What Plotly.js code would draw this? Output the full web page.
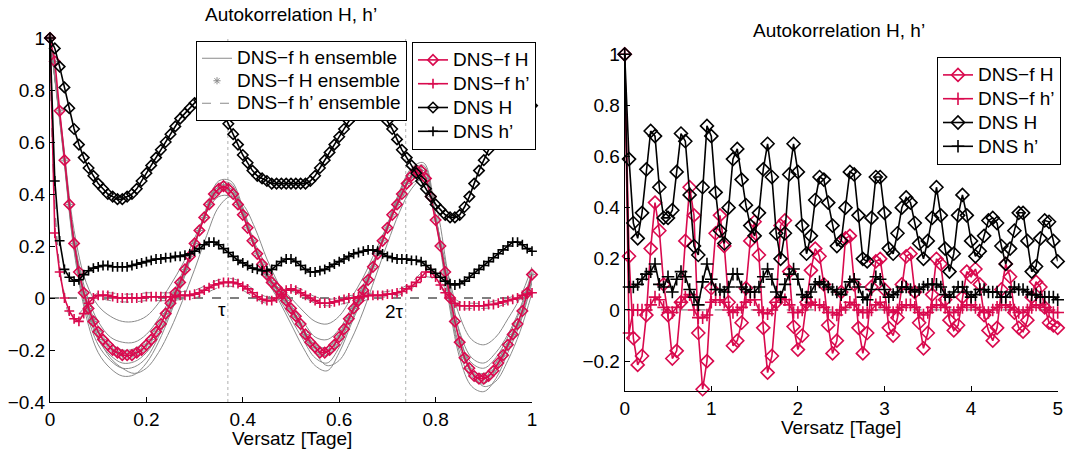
<!DOCTYPE html>
<html>
<head>
<meta charset="utf-8">
<script src="https://cdn.plot.ly/plotly-3.0.1.min.js"></script>
<style>html,body{margin:0;padding:0;background:#fff;}#chart{width:1067px;height:449px;}</style>
</head>
<body>
<div id="chart"></div>
<script>
// ---------------- DATA ----------------
const leftStep = 0.01;      // lag step of left panel [days]
const ensStep = 0.025;      // lag step of ensemble curves [days]
const rightStep = 0.05;     // lag step of right panel [days]
const tau = 0.369;          // tau marker [days]

const leftXTicks = [0, 0.2, 0.4, 0.6, 0.8, 1];
const leftXTickText = ["0", "0.2", "0.4", "0.6", "0.8", "1"];
const leftYTicks = [-0.4, -0.2, 0, 0.2, 0.4, 0.6, 0.8, 1];
const leftYTickText = ["\u22120.4", "\u22120.2", "0", "0.2", "0.4", "0.6", "0.8", "1"];
const rightXTicks = [0, 1, 2, 3, 4, 5];
const rightXTickText = ["0", "1", "2", "3", "4", "5"];
const rightYTicks = [-0.2, 0, 0.2, 0.4, 0.6, 0.8, 1];
const rightYTickText = ["\u22120.2", "0", "0.2", "0.4", "0.6", "0.8", "1"];

// Left panel: DNS-f H
const leftDNSfH = [
 1.00,0.91,0.72,0.53,0.36,0.21,0.10,0.02,-0.04,-0.09,
 -0.13,-0.16,-0.18,-0.20,-0.21,-0.22,-0.22,-0.22,-0.21,-0.20,
 -0.18,-0.16,-0.13,-0.10,-0.06,-0.02,0.02,0.06,0.11,0.16,
 0.21,0.26,0.31,0.36,0.40,0.42,0.43,0.42,0.40,0.36,
 0.32,0.27,0.22,0.17,0.13,0.09,0.06,0.04,0.02,-0.01,
 -0.04,-0.07,-0.10,-0.14,-0.17,-0.19,-0.21,-0.21,-0.20,-0.18,
 -0.15,-0.12,-0.08,-0.04,-0.01,0.03,0.07,0.12,0.17,0.22,
 0.27,0.32,0.36,0.40,0.44,0.47,0.49,0.49,0.46,0.39,
 0.30,0.20,0.10,0.00,-0.09,-0.17,-0.23,-0.27,-0.30,-0.31,
 -0.31,-0.30,-0.28,-0.25,-0.22,-0.18,-0.14,-0.10,-0.05,0.02,
 0.09];
// Left panel: DNS-f h'
const leftDNSfhp = [
 1.00,0.25,0.10,0.00,-0.05,-0.08,-0.09,-0.06,-0.02,0.00,
 0.01,0.01,0.01,0.005,0.0,0.0,0.0,0.0,0.0,0.0,
 0.005,0.005,0.005,0.005,0.005,0.005,0.005,0.01,0.01,0.01,
 0.015,0.02,0.03,0.04,0.05,0.055,0.06,0.06,0.06,0.055,
 0.045,0.035,0.02,0.005,-0.005,-0.01,-0.01,0.0,0.015,0.03,
 0.035,0.03,0.02,0.01,0.0,-0.01,-0.02,-0.02,-0.02,-0.015,
 -0.01,-0.005,0.0,0.0,0.005,0.005,0.01,0.01,0.01,0.01,
 0.015,0.015,0.02,0.025,0.035,0.045,0.06,0.08,0.10,0.10,
 0.08,0.05,0.02,0.0,-0.02,-0.03,-0.03,-0.03,-0.03,-0.03,
 -0.03,-0.025,-0.025,-0.02,-0.015,-0.01,-0.005,0.0,0.01,0.015,
 0.02];
// Left panel: DNS H
const leftDNSH = [
 1.00,0.96,0.89,0.81,0.73,0.65,0.59,0.54,0.50,0.47,
 0.44,0.42,0.40,0.39,0.38,0.38,0.39,0.40,0.42,0.45,
 0.48,0.51,0.54,0.57,0.60,0.63,0.66,0.69,0.71,0.73,
 0.75,0.76,0.77,0.77,0.76,0.74,0.71,0.67,0.63,0.59,
 0.55,0.52,0.49,0.47,0.46,0.45,0.44,0.44,0.44,0.44,
 0.44,0.44,0.44,0.44,0.45,0.47,0.50,0.53,0.56,0.59,
 0.62,0.65,0.68,0.70,0.72,0.73,0.74,0.74,0.73,0.71,
 0.68,0.65,0.61,0.57,0.54,0.51,0.48,0.45,0.42,0.39,
 0.36,0.34,0.32,0.31,0.31,0.32,0.35,0.39,0.44,0.49,
 0.53,0.57,0.61,0.64,0.67,0.69,0.71,0.72,0.73,0.74,
 0.74];
// Left panel: DNS h'
const leftDNShp = [
 1.00,0.45,0.22,0.11,0.08,0.065,0.07,0.09,0.105,0.115,
 0.12,0.125,0.125,0.12,0.12,0.12,0.12,0.125,0.13,0.135,
 0.14,0.145,0.15,0.15,0.155,0.155,0.16,0.16,0.165,0.17,
 0.18,0.19,0.205,0.215,0.215,0.205,0.19,0.175,0.16,0.145,
 0.135,0.125,0.115,0.11,0.105,0.105,0.11,0.125,0.14,0.15,
 0.15,0.14,0.125,0.11,0.10,0.10,0.105,0.11,0.12,0.13,
 0.14,0.15,0.16,0.17,0.175,0.18,0.185,0.185,0.18,0.17,
 0.16,0.155,0.15,0.15,0.15,0.145,0.145,0.14,0.125,0.11,
 0.095,0.08,0.065,0.055,0.05,0.055,0.065,0.08,0.095,0.11,
 0.125,0.14,0.155,0.17,0.185,0.20,0.215,0.215,0.205,0.19,
 0.18];

// Left panel: DNS-f h ensemble members (solid grey)
const ensH1 = [1.0,0.64,0.26,0.06,-0.03,-0.07,-0.09,-0.09,-0.07,-0.02,0.05,0.13,0.23,0.33,0.39,0.39,0.32,0.21,0.12,0.05,0.0,-0.05,-0.09,-0.10,-0.07,0.0,0.08,0.18,0.28,0.37,0.44,0.45,0.30,0.10,-0.07,-0.16,-0.18,-0.15,-0.08,0.0,0.12];
const ensH2 = [1.0,0.63,0.23,0.02,-0.09,-0.15,-0.17,-0.17,-0.14,-0.08,0.0,0.10,0.21,0.33,0.41,0.41,0.33,0.20,0.10,0.03,-0.03,-0.09,-0.15,-0.16,-0.12,-0.04,0.05,0.16,0.27,0.38,0.46,0.47,0.31,0.07,-0.13,-0.23,-0.25,-0.21,-0.14,-0.04,0.10];
const ensH3 = [1.0,0.61,0.20,-0.03,-0.16,-0.22,-0.25,-0.245,-0.21,-0.14,-0.04,0.08,0.20,0.34,0.43,0.43,0.33,0.19,0.08,0.01,-0.06,-0.14,-0.21,-0.22,-0.17,-0.07,0.03,0.15,0.28,0.40,0.49,0.50,0.31,0.04,-0.19,-0.28,-0.29,-0.25,-0.17,-0.07,0.08];
const ensH4 = [1.0,0.61,0.19,-0.05,-0.18,-0.24,-0.27,-0.265,-0.23,-0.15,-0.05,0.07,0.20,0.34,0.44,0.44,0.34,0.20,0.08,0.0,-0.08,-0.16,-0.23,-0.25,-0.19,-0.09,0.02,0.15,0.28,0.41,0.50,0.52,0.32,0.03,-0.21,-0.31,-0.33,-0.28,-0.19,-0.09,0.07];
const ensH5 = [1.0,0.60,0.18,-0.07,-0.21,-0.27,-0.30,-0.295,-0.25,-0.17,-0.06,0.06,0.20,0.35,0.45,0.45,0.35,0.20,0.07,-0.01,-0.10,-0.19,-0.26,-0.28,-0.21,-0.10,0.01,0.14,0.28,0.40,0.49,0.51,0.30,0.01,-0.23,-0.34,-0.36,-0.31,-0.21,-0.10,0.06];
const ensH6 = [1.0,0.62,0.22,-0.02,-0.15,-0.23,-0.27,-0.29,-0.27,-0.21,-0.12,-0.01,0.11,0.24,0.35,0.39,0.36,0.27,0.15,0.05,-0.04,-0.13,-0.21,-0.26,-0.24,-0.16,-0.05,0.08,0.21,0.33,0.42,0.46,0.36,0.10,-0.14,-0.28,-0.34,-0.32,-0.24,-0.13,0.02];
const ensH7 = [1.0,0.62,0.22,0.0,-0.11,-0.17,-0.20,-0.195,-0.16,-0.10,-0.01,0.09,0.21,0.34,0.42,0.42,0.33,0.20,0.09,0.02,-0.05,-0.12,-0.18,-0.19,-0.14,-0.05,0.04,0.15,0.27,0.39,0.47,0.49,0.31,0.06,-0.16,-0.25,-0.27,-0.23,-0.15,-0.05,0.09];
// Left panel: DNS-f h' ensemble members (dashed grey)
const ensHp1 = [1.0,0.06,-0.07,-0.03,0.02,0.02,0.015,0.015,0.02,0.02,0.02,0.025,0.03,0.05,0.07,0.075,0.06,0.03,0.005,0.02,0.045,0.03,0.005,-0.005,0.0,0.01,0.015,0.02,0.025,0.035,0.06,0.10,0.09,0.025,-0.015,-0.02,-0.02,-0.01,0.0,0.015,0.03];
const ensHp2 = [1.0,0.04,-0.09,-0.05,-0.005,-0.01,-0.015,-0.015,-0.01,-0.01,-0.01,-0.005,0.0,0.02,0.04,0.045,0.03,0.0,-0.02,-0.005,0.025,0.005,-0.02,-0.03,-0.025,-0.015,-0.01,0.0,0.005,0.012,0.035,0.08,0.07,0.0,-0.04,-0.04,-0.04,-0.035,-0.02,-0.005,0.01];

// Right panel (0..5 days)
const rightDNSfH = [
 1.0,0.21,-0.11,-0.215,-0.18,-0.02,0.24,0.42,0.31,0.10,
 -0.02,-0.19,-0.16,0.03,0.27,0.48,0.37,-0.09,-0.31,-0.20,
 0.085,0.30,0.37,0.25,0.03,-0.14,-0.12,-0.05,0.085,0.27,
 0.345,0.215,-0.07,-0.245,-0.18,0.03,0.33,0.35,0.15,-0.065,
 -0.155,-0.10,0.03,0.155,0.24,0.21,0.10,-0.06,-0.17,-0.12,
 0.07,0.28,0.29,0.10,-0.07,-0.17,-0.09,0.09,0.19,0.20,
 0.08,-0.07,-0.10,-0.03,0.10,0.21,0.22,0.07,-0.05,-0.15,
 -0.09,0.06,0.20,0.18,0.04,-0.04,-0.08,-0.06,0.05,0.15,
 0.13,0.16,0.10,-0.02,-0.08,-0.12,-0.07,0.08,0.18,0.13,
 -0.01,-0.07,-0.085,-0.04,0.05,0.11,0.09,0.01,-0.05,-0.06,
 -0.07];
const rightDNSfhp = [
 1.0,-0.09,0.0,0.0,0.0,0.0,0.02,0.05,0.04,0.01,
 -0.01,-0.01,0.01,0.03,0.05,0.06,0.0,-0.03,-0.03,-0.02,
 0.03,0.04,0.04,0.03,0.0,-0.01,0.0,0.01,0.03,0.04,
 0.04,0.0,-0.01,-0.015,0.0,0.03,0.045,0.04,0.02,-0.01,
 -0.01,0.0,0.02,0.03,0.02,0.02,0.01,-0.01,-0.01,-0.02,
 0.0,0.01,0.03,0.02,0.0,-0.01,-0.01,0.0,0.02,0.03,
 0.01,0.0,-0.01,0.0,0.01,0.02,0.02,0.01,-0.01,-0.02,
 -0.01,0.01,0.02,0.02,0.01,-0.01,-0.01,0.0,0.01,0.02,
 0.02,0.01,0.0,-0.01,-0.01,0.0,0.01,0.02,0.02,0.01,
 0.0,-0.01,-0.01,0.0,0.01,0.02,0.02,0.01,0.0,-0.01,
 -0.01];
const rightDNSH = [
 1.0,0.59,0.34,0.28,0.38,0.55,0.70,0.68,0.48,0.36,
 0.36,0.39,0.54,0.69,0.66,0.45,0.25,0.215,0.48,0.72,
 0.68,0.46,0.31,0.26,0.40,0.59,0.63,0.51,0.41,0.33,
 0.29,0.38,0.55,0.65,0.52,0.30,0.20,0.30,0.53,0.65,
 0.54,0.33,0.22,0.29,0.43,0.52,0.51,0.42,0.33,0.25,
 0.27,0.40,0.54,0.53,0.37,0.20,0.19,0.36,0.52,0.52,
 0.38,0.24,0.22,0.30,0.40,0.44,0.42,0.34,0.26,0.20,
 0.27,0.36,0.48,0.37,0.24,0.15,0.22,0.37,0.45,0.37,
 0.27,0.21,0.23,0.29,0.35,0.36,0.34,0.25,0.18,0.24,
 0.31,0.38,0.38,0.27,0.15,0.17,0.28,0.35,0.345,0.27,
 0.19];
const rightDNShp = [
 1.0,0.09,0.09,0.10,0.12,0.14,0.15,0.18,0.10,0.09,
 0.13,0.07,0.12,0.15,0.13,0.08,0.05,0.02,0.11,0.18,
 0.12,0.08,0.08,0.07,0.09,0.14,0.14,0.09,0.08,0.07,
 0.07,0.09,0.13,0.16,0.12,0.07,0.05,0.10,0.14,0.16,
 0.12,0.06,0.05,0.07,0.10,0.11,0.10,0.09,0.08,0.07,
 0.06,0.08,0.11,0.12,0.09,0.05,0.04,0.08,0.13,0.12,
 0.08,0.05,0.06,0.07,0.09,0.09,0.08,0.07,0.08,0.09,
 0.10,0.10,0.10,0.09,0.06,0.05,0.07,0.09,0.09,0.07,
 0.05,0.06,0.08,0.08,0.07,0.07,0.07,0.05,0.05,0.07,
 0.09,0.08,0.08,0.07,0.06,0.06,0.05,0.05,0.05,0.05,
 0.04];

// ---------------- BUILD ----------------
const lags = (n, step) => Array.from({length: n}, (_, i) => +(i * step).toFixed(4));
const xL = lags(leftDNSfH.length, leftStep);
const xE = lags(ensH1.length, ensStep);
const xR = lags(rightDNSH.length, rightStep);

const RED = '#d90a4e', BLACK = '#000000', GREY = '#8a8a8a';
const FONT = 'Liberation Sans, Arial, Helvetica, sans-serif';
const FS = 19;
// legend rows use a smaller nominal size (row spacing) while the text itself is drawn at FS
const LEG_FS = 16;
const LEG1_FS = 15;
const lgText = t => '<span style="font-size:' + FS + 'px">' + t + '</span>';

const traces = [];
[ensH1, ensH2, ensH3, ensH4, ensH5, ensH6, ensH7].forEach((arr, i) => {
  traces.push({x: xE, y: arr, xaxis: 'x', yaxis: 'y', type: 'scatter', mode: 'lines',
    line: {color: GREY, width: 1, shape: 'spline'}, name: lgText('DNS\u2212f h ensemble'),
    legend: 'legend', showlegend: i === 0, cliponaxis: false, hoverinfo: 'skip'});
});
traces.push({x: xL, y: leftDNSfH, xaxis: 'x', yaxis: 'y', type: 'scatter', mode: 'markers',
  marker: {symbol: 'asterisk-open', size: 6, color: GREY, line: {color: GREY, width: 1}},
  name: lgText('DNS\u2212f H ensemble'), legend: 'legend', cliponaxis: false});
[ensHp1, ensHp2].forEach((arr, i) => {
  traces.push({x: xE, y: arr, xaxis: 'x', yaxis: 'y', type: 'scatter', mode: 'lines',
    line: {color: GREY, width: 1, dash: 'dash', shape: 'spline'}, name: lgText('DNS\u2212f h\u2019 ensemble'),
    legend: 'legend', showlegend: i === 0, cliponaxis: false});
});

function mainTraces(xs, fH, fhp, H, hp, xa, ya, lg, dsize, csize) {
  return [
    {x: xs, y: fH, name: 'DNS\u2212f H', color: RED, sym: 'diamond-open', size: dsize},
    {x: xs, y: fhp, name: 'DNS\u2212f h\u2019', color: RED, sym: 'cross-thin-open', size: csize},
    {x: xs, y: H, name: 'DNS H', color: BLACK, sym: 'diamond-open', size: dsize},
    {x: xs, y: hp, name: 'DNS h\u2019', color: BLACK, sym: 'cross-thin-open', size: csize}
  ].map(s => ({x: s.x, y: s.y, xaxis: xa, yaxis: ya, type: 'scatter', mode: 'lines+markers',
    name: lgText(s.name), legend: lg, cliponaxis: false,
    line: {color: s.color, width: 1.6},
    marker: {symbol: s.sym, size: s.size, color: s.color, line: {color: s.color, width: 1.6}}}));
}
traces.push(...mainTraces(xL, leftDNSfH, leftDNSfhp, leftDNSH, leftDNShp, 'x', 'y', 'legend2', 8, 7));
traces.push(...mainTraces(xR, rightDNSfH, rightDNSfhp, rightDNSH, rightDNShp, 'x2', 'y2', 'legend3', 10, 9));

const W = 1067, H = 449;
const axisCommon = {showline: true, linecolor: BLACK, linewidth: 1, ticks: 'inside', ticklen: 5,
  tickcolor: BLACK, showgrid: false, zeroline: false, mirror: false, automargin: false,
  tickfont: {family: FONT, size: FS, color: BLACK}};
const legendCommon = {bgcolor: '#ffffff', bordercolor: BLACK, borderwidth: 1,
  font: {family: FONT, size: LEG_FS, color: BLACK}, xanchor: 'left', yanchor: 'top',
  xref: 'paper', yref: 'paper', tracegroupgap: 0, itemwidth: 30};

const layout = {
  width: W, height: H, margin: {l: 0, r: 0, t: 0, b: 0},
  paper_bgcolor: '#ffffff', plot_bgcolor: 'rgba(0,0,0,0)',
  font: {family: FONT, size: FS, color: BLACK},
  showlegend: true,
  xaxis: Object.assign({}, axisCommon, {domain: [50 / W, 532 / W], range: [0, 1], anchor: 'y',
    tickvals: leftXTicks, ticktext: leftXTickText}),
  yaxis: Object.assign({}, axisCommon, {domain: [1 - 402 / H, 1 - 38 / H], range: [-0.4, 1], anchor: 'x',
    tickvals: leftYTicks, ticktext: leftYTickText}),
  xaxis2: Object.assign({}, axisCommon, {domain: [624.7 / W, 1057.7 / W], range: [0, 5], anchor: 'y2',
    tickvals: rightXTicks, ticktext: rightXTickText}),
  yaxis2: Object.assign({}, axisCommon, {domain: [1 - 391 / H, 1 - 54.3 / H], range: [-0.317, 1], anchor: 'x2',
    tickvals: rightYTicks, ticktext: rightYTickText}),
  legend: Object.assign({}, legendCommon, {x: 196 / W, y: 1 - 41 / H,
    font: {family: FONT, size: LEG1_FS, color: BLACK}}),
  legend2: Object.assign({}, legendCommon, {x: 412 / W, y: 1 - 42 / H}),
  legend3: Object.assign({}, legendCommon, {x: 937 / W, y: 1 - 57 / H}),
  shapes: [
    {type: 'line', xref: 'x', yref: 'y', x0: 0, x1: 1, y0: 0, y1: 0, layer: 'below',
      line: {color: BLACK, width: 1, dash: 'dash'}},
    {type: 'line', xref: 'x', yref: 'y', x0: tau, x1: tau, y0: -0.4, y1: 1, layer: 'below',
      line: {color: '#b0b0b0', width: 1, dash: 'dot'}},
    {type: 'line', xref: 'x', yref: 'y', x0: 2 * tau, x1: 2 * tau, y0: -0.4, y1: 1, layer: 'below',
      line: {color: '#b0b0b0', width: 1, dash: 'dot'}},
    {type: 'line', xref: 'x2', yref: 'y2', x0: 0, x1: 5, y0: 0, y1: 0, layer: 'below',
      line: {color: '#808080', width: 1.2, dash: 'dash'}}
  ],
  annotations: [
    {text: 'Autokorrelation H, h\u2019', xref: 'paper', yref: 'paper', x: 291 / W, y: 1 - 14 / H,
      showarrow: false, xanchor: 'center', yanchor: 'middle', font: {family: FONT, size: FS}},
    {text: 'Autokorrelation H, h\u2019', xref: 'paper', yref: 'paper', x: 839 / W, y: 1 - 30 / H,
      showarrow: false, xanchor: 'center', yanchor: 'middle', font: {family: FONT, size: FS}},
    {text: 'Versatz [Tage]', xref: 'paper', yref: 'paper', x: 292 / W, y: 1 - 438 / H,
      showarrow: false, xanchor: 'center', yanchor: 'middle', font: {family: FONT, size: FS}},
    {text: 'Versatz [Tage]', xref: 'paper', yref: 'paper', x: 841 / W, y: 1 - 427 / H,
      showarrow: false, xanchor: 'center', yanchor: 'middle', font: {family: FONT, size: FS}},
    {text: '\u03c4', xref: 'x', yref: 'y', x: tau, y: -0.045, showarrow: false,
      xanchor: 'right', yanchor: 'middle', font: {family: FONT, size: FS}},
    {text: '2\u03c4', xref: 'x', yref: 'y', x: 2 * tau, y: -0.05, showarrow: false,
      xanchor: 'right', yanchor: 'middle', font: {family: FONT, size: FS}}
  ]
};

Plotly.newPlot('chart', traces, layout, {displayModeBar: false, staticPlot: true});
</script>
</body>
</html>
